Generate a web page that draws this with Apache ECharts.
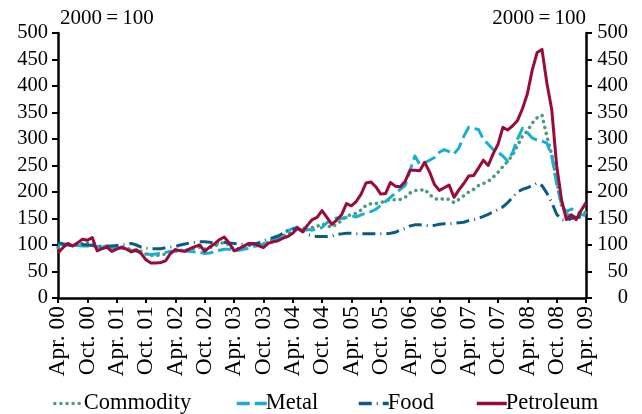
<!DOCTYPE html>
<html>
<head>
<meta charset="utf-8">
<script src="https://cdn.jsdelivr.net/npm/echarts@6/dist/echarts.min.js"></script>
<style>
html,body{margin:0;padding:0;background:#fff;}
#chart{width:642px;height:414px;}
</style>
</head>
<body>
<div id="chart"></div>
<script>
// Monthly, Apr 2000 .. Apr 2009 (109 points)
const monthNames = ['Apr.','May.','Jun.','Jul.','Aug.','Sep.','Oct.','Nov.','Dec.','Jan.','Feb.','Mar.'];
const startYear = 0; // 2000
const nMonths = 109;
const categories = [];
for (let i = 0; i < nMonths; i++) {
  const yr = startYear + Math.floor((i + 3) / 12);
  categories.push(monthNames[i % 12] + ' ' + String(yr).padStart(2, '0'));
}

const yTicks = [0, 50, 100, 150, 200, 250, 300, 350, 400, 450, 500];
const unitLabel = '2000\u2009=\u2009100';
const seriesNames = ['Commodity', 'Metal', 'Food', 'Petroleum'];

const commodity = [
  95,100,100,99,101,103,104,104,97,97,97,95,
  96,96,94,91,90,88,83,80,80,81,83,88,
  91,90,90,92,94,96,92,95,98,102,105,100,
  92,93,96,99,100,100,100,105,108,112,117,121,
  125,130,127,129,133,135,140,137,133,140,146,155,
  157,160,166,175,178,178,180,183,186,185,186,190,
  198,203,203,205,195,188,185,188,186,180,186,193,
  200,205,212,216,220,228,237,248,258,270,288,305,
  315,330,340,345,305,270,220,175,158,155,153,158,
  162
];
const metal = [
  100,102,101,100,99,98,98,97,96,96,95,95,
  95,94,92,90,88,86,83,82,83,84,86,88,
  88,88,89,88,87,86,84,85,87,90,92,92,
  89,90,92,94,97,99,102,106,110,114,120,127,
  131,134,132,130,128,131,133,142,148,151,150,152,
  155,153,157,160,163,167,175,182,190,198,205,212,
  240,268,252,255,260,265,275,280,276,272,283,305,
  322,320,318,300,290,280,275,268,258,275,300,320,
  312,302,298,296,292,268,215,175,163,168,165,158,
  155
];
const food = [
  105,102,100,100,100,101,100,99,98,98,98,98,
  99,100,101,103,100,96,94,93,93,93,95,96,
  97,100,102,104,105,106,106,105,104,104,105,104,
  103,102,101,101,102,104,108,111,114,117,122,128,
  130,130,127,120,117,116,116,116,117,120,121,122,
  122,121,121,121,121,121,121,121,122,124,128,131,
  136,138,138,137,136,137,139,140,140,141,142,143,
  146,148,150,154,158,162,167,172,180,190,200,205,
  208,212,217,212,198,180,158,148,146,150,152,153,
  154
];
const petroleum = [
  85,95,103,98,104,111,109,114,89,93,96,88,
  92,96,92,87,91,84,72,66,66,67,70,84,
  91,89,88,93,97,100,88,96,102,110,115,104,
  89,93,98,103,103,99,95,103,106,108,113,116,
  122,133,125,137,148,152,165,152,139,147,157,178,
  174,182,196,217,219,210,196,197,218,211,210,220,
  241,241,240,256,238,214,203,208,213,190,204,216,
  230,231,245,260,250,272,290,322,317,325,335,357,
  385,430,463,469,405,355,250,185,148,157,148,165,
  180
];

const colors = {
  Commodity: '#4f9a7b',
  Metal: '#19afd2',
  Food: '#0b5c85',
  Petroleum: '#9a0b3b'
};
const dashes = {
  Commodity: [0.1, 6],
  Metal: [13, 5],
  Food: [13, 5, 1, 5],
  Petroleum: 'solid'
};
const values = { Commodity: commodity, Metal: metal, Food: food, Petroleum: petroleum };
const legendLeft = { Commodity: 48, Metal: 230, Food: 352, Petroleum: 470 };

const FONT = 'Liberation Serif';
const chart = echarts.init(document.getElementById('chart'), null, { renderer: 'canvas' });

const yAxisCommon = {
  type: 'value', min: yTicks[0], max: yTicks[yTicks.length - 1], interval: 50,
  splitLine: { show: false },
  axisLine: { show: true, lineStyle: { color: '#000', width: 2.5 } },
  axisTick: { show: true, length: 6, lineStyle: { color: '#000', width: 2 } },
  nameLocation: 'end',
  nameGap: 15,
  nameTextStyle: { color: '#000', fontFamily: FONT, fontSize: 21, verticalAlign: 'middle' }
};

chart.setOption({
  animation: false,
  backgroundColor: '#fff',
  grid: { left: 58, right: 56, top: 33, bottom: 116, containLabel: false },
  legend: seriesNames.map(n => ({
    data: [n],
    left: legendLeft[n], top: 387,
    itemWidth: 30, itemHeight: 12, itemGap: 0,
    itemStyle: { opacity: 0 },
    lineStyle: { width: 3.5 },
    selectedMode: false,
    textStyle: { color: '#000', fontFamily: FONT, fontSize: 22.5, padding: [0, 0, 0, -6] }
  })),
  xAxis: {
    type: 'category', data: categories, boundaryGap: false,
    axisLine: { show: true, onZero: false, lineStyle: { color: '#000', width: 2.5 } },
    axisTick: { show: true, interval: 5, length: 5, lineStyle: { color: '#000', width: 2 } },
    axisLabel: { interval: 5, rotate: 90, color: '#000', fontFamily: FONT, fontSize: 23.5, margin: 8 },
    splitLine: { show: false }
  },
  yAxis: [
    Object.assign({}, yAxisCommon, { position: 'left', name: unitLabel,
      axisLabel: { color: '#000', fontFamily: FONT, fontSize: 20.5, margin: 10 },
      nameTextStyle: Object.assign({}, yAxisCommon.nameTextStyle, { align: 'left', padding: [0, 0, 0, 2] }) }),
    Object.assign({}, yAxisCommon, { position: 'right', name: unitLabel,
      axisLabel: { color: '#000', fontFamily: FONT, fontSize: 20.5, margin: 42, align: 'right' },
      nameTextStyle: Object.assign({}, yAxisCommon.nameTextStyle, { align: 'right' }) })
  ],
  series: seriesNames.map(n => ({
    name: n, type: 'line', data: values[n], yAxisIndex: 0,
    symbol: 'none', smooth: false,
    itemStyle: { color: colors[n] },
    lineStyle: { color: colors[n], width: n === 'Commodity' ? 3.5 : 3, type: dashes[n],
      cap: n === 'Commodity' ? 'round' : 'butt', join: 'round' }
  }))
});
</script>
</body>
</html>
